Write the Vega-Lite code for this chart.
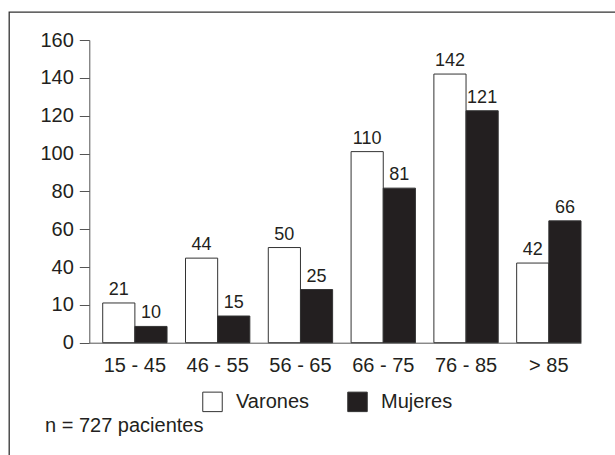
{
  "$schema": "https://vega.github.io/schema/vega-lite/v6.json",
  "width": 610,
  "height": 450,
  "autosize": {"type": "none"},
  "padding": {"left": 9, "top": 12, "right": 0, "bottom": 0},
  "background": "white",
  "config": {
    "view": {"stroke": "#333333", "strokeWidth": 1.3},
    "font": "Liberation Sans"
  },
  "title": {
    "text": "n = 727 pacientes",
    "orient": "bottom",
    "anchor": "start",
    "frame": "group",
    "offset": -30,
    "dx": 36,
    "baseline": "alphabetic",
    "fontSize": 20,
    "fontWeight": "normal",
    "font": "Liberation Sans",
    "color": "#231f20"
  },
  "data": {
    "values": [
      {"edad": "15 - 45", "sexo": "Varones", "altura": 21, "etiqueta": 21},
      {"edad": "15 - 45", "sexo": "Mujeres", "altura": 8.6, "etiqueta": 10},
      {"edad": "46 - 55", "sexo": "Varones", "altura": 44.7, "etiqueta": 44},
      {"edad": "46 - 55", "sexo": "Mujeres", "altura": 14.1, "etiqueta": 15},
      {"edad": "56 - 65", "sexo": "Varones", "altura": 50.3, "etiqueta": 50},
      {"edad": "56 - 65", "sexo": "Mujeres", "altura": 28.1, "etiqueta": 25},
      {"edad": "66 - 75", "sexo": "Varones", "altura": 101, "etiqueta": 110},
      {"edad": "66 - 75", "sexo": "Mujeres", "altura": 81.7, "etiqueta": 81},
      {"edad": "76 - 85", "sexo": "Varones", "altura": 142, "etiqueta": 142},
      {"edad": "76 - 85", "sexo": "Mujeres", "altura": 122.6, "etiqueta": 121},
      {"edad": "> 85", "sexo": "Varones", "altura": 42.1, "etiqueta": 42},
      {"edad": "> 85", "sexo": "Mujeres", "altura": 64.4, "etiqueta": 66}
    ]
  },
  "encoding": {
    "x": {
      "field": "edad",
      "type": "nominal",
      "sort": null,
      "scale": {"range": [80.3, 572], "paddingInner": 0.223, "paddingOuter": 0.081, "align": 1},
      "axis": {
        "title": null,
        "orient": "bottom",
        "offset": -119.3,
        "ticks": false,
        "labelPadding": 13,
        "labelAngle": 0,
        "labelFontSize": 20,
        "labelFont": "Liberation Sans",
        "labelColor": "#231f20",
        "domainColor": "#555555",
        "domainWidth": 1,
        "grid": false
      }
    },
    "xOffset": {
      "field": "sexo",
      "type": "nominal",
      "sort": ["Varones", "Mujeres"],
      "scale": {"paddingInner": 0, "paddingOuter": 0}
    },
    "y": {
      "field": "altura",
      "type": "quantitative",
      "scale": {"domain": [0, 160], "range": [330.7, 28], "nice": false, "zero": true},
      "axis": {
        "title": null,
        "values": [0, 20, 40, 60, 80, 100, 120, 140, 160],
        "labelExpr": "datum.value == 20 ? '10' : datum.label",
        "offset": -80.3,
        "tickSize": 10,
        "labelPadding": 6,
        "labelFontSize": 20,
        "labelFont": "Liberation Sans",
        "labelColor": "#231f20",
        "domainColor": "#555555",
        "tickColor": "#555555",
        "grid": false
      }
    }
  },
  "layer": [
    {
      "mark": {"type": "bar", "stroke": "#333333", "strokeWidth": 1},
      "encoding": {
        "color": {
          "field": "sexo",
          "type": "nominal",
          "sort": ["Varones", "Mujeres"],
          "scale": {"domain": ["Varones", "Mujeres"], "range": ["#ffffff", "#231f20"]},
          "legend": {
            "orient": "none",
            "legendX": 193,
            "legendY": 379,
            "direction": "horizontal",
            "title": null,
            "symbolType": "square",
            "symbolSize": 380,
            "symbolStrokeColor": "#333333",
            "symbolStrokeWidth": 1,
            "symbolOpacity": 1,
            "labelFontSize": 20,
            "labelFont": "Liberation Sans",
            "labelColor": "#231f20",
            "labelOffset": 13,
            "columnPadding": 35
          }
        }
      }
    },
    {
      "mark": {"type": "text", "baseline": "bottom", "dy": -4, "fontSize": 18, "font": "Liberation Sans", "color": "#231f20"},
      "encoding": {"text": {"field": "etiqueta", "type": "quantitative"}}
    }
  ]
}
